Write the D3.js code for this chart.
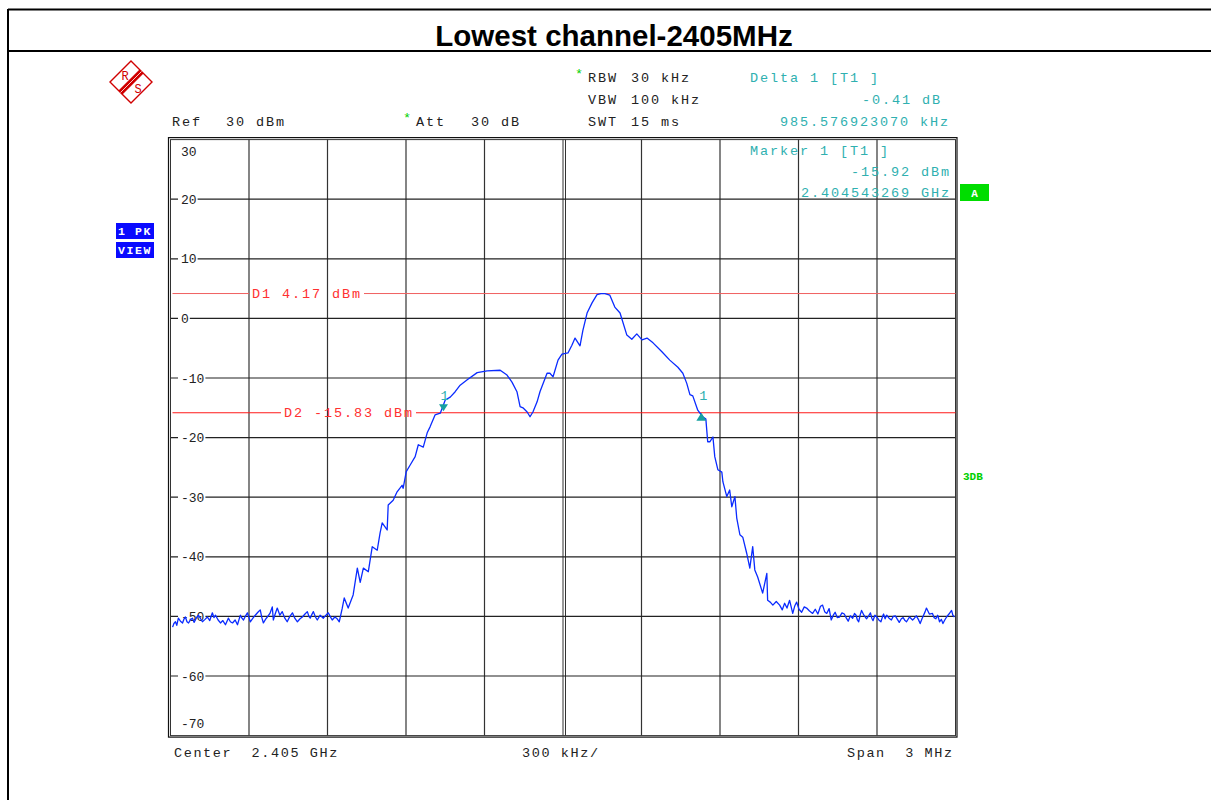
<!DOCTYPE html>
<html><head><meta charset="utf-8">
<script src="https://cdn.jsdelivr.net/npm/d3@7"></script>
<style>html,body{margin:0;padding:0;background:#fff;} svg{display:block;} text{white-space:pre;}</style>
</head><body><svg id="c" width="1211" height="800"></svg>
<script>
// ---------------- data ----------------
const chartTitle = "Lowest channel-2405MHz";
const yTickValues = [30, 20, 10, 0, -10, -20, -30, -40, -50, -60, -70];
const xGridKHz = [-1200, -900, -600, -300, 0, 300, 600, 900, 1200];
const displayLineNames = ["D1", "D2"];
const displayLineLevels = [4.17, -15.83];
const displayLineLabels = ["D1 4.17 dBm", "D2 -15.83 dBm"];
const markerKHz = [-456.7, 528.8];      // marker 1 and delta 1
const markerLevels = [-15.92, -16.33];
const headerLeft = ["Ref", "30 dBm", "Att", "30 dB"];
const headerSettings = [["RBW", "30 kHz"], ["VBW", "100 kHz"], ["SWT", "15 ms"]];
const deltaTexts = ["Delta 1 [T1 ]", "-0.41 dB", "985.576923070 kHz"];
const markerTexts = ["Marker 1 [T1 ]", "-15.92 dBm", "2.404543269 GHz"];
const footerTexts = ["Center  2.405 GHz", "300 kHz/", "Span  3 MHz"];

const traceKHz = [
 -1492,-1487,-1481,-1476,-1470,-1462,-1454,-1448,-1443,-1437,-1431,-1423,-1416,-1410,-1405,-1399,-1393,-1385,-1378,-1368,
 -1359,-1350,-1340,-1334,-1328,-1318,-1309,-1300,-1290,-1284,-1279,-1271,-1263,-1253,-1244,-1238,-1233,-1227,-1221,-1213,
 -1206,-1200,-1195,-1185,-1176,-1166,-1157,-1151,-1145,-1137,-1130,-1120,-1111,-1107,-1100,-1092,-1082,-1073,-1063,-1054,
 -1044,-1034,-1025,-1015,-1005,-996,-986,-977,-971,-966,-960,-954,-946,-939,-928,-916,-906,-897,-890,-882,-872,-863,-855,
 -844,-836,-821,-802,-786,-775,-763,
 -744,-729,-710,-699,-691,-672,-668,-649,-634,-615,
 -611,-599,-584,-565,-553,-534,-519,-508,-489,-469,
 -450,-431,-412,-393,-366,-328,-290,-240,-214,-195,
 -176,-164,-153,-137,-126,-115,-99,-88,-61,-50,
 -38,-19,-4,19,34,46,65,76,92,111,
 130,145,160,179,198,218,244,263,282,302,
 321,344,378,408,439,458,473,485,496,515,
 534,546,553,561,573,580,592,607,611,626,
 637,645,657,664,676,687,702,714,725,733,
 744,763,779,782,792,802,815,828,838,847,856,866,872,878,886,893,902,912,922,931,942,954,
 964,974,984,992,1000,1008,1017,1025,1033,1040,1048,1057,1066,1075,1083,1090,1098,1107,
 1114,1120,1125,1130,1136,1141,1150,1160,1168,1175,1180,1185,1192,1199,1207,1215,1220,1225,1231,1237,
 1246,1255,1262,1270,1278,1285,1293,1300,1307,1313,1324,1336,1343,1350,1358,1365,1372,1378,1384,1389,
 1400,1412,1418,1425,1432,1439,1446,1452,1459,1466,1475,1485,1490,1496
];
const traceDBm = [
 -51.8,-51.2,-50.9,-51.5,-50.3,-50.8,-51.1,-50.4,-50.1,-50.9,-51.1,-50.5,-50.3,-51.0,-50.6,-50.1,-49.8,-50.4,-50.9,-50.5,
 -50.1,-50.7,-49.4,-50.2,-49.8,-50.6,-51.1,-50.7,-51.4,-50.8,-50.3,-50.9,-51.1,-50.6,-51.4,-50.5,-49.8,-50.3,-50.6,-49.9,
 -49.4,-50.2,-50.9,-50.3,-49.8,-49.3,-48.9,-50.2,-51.1,-50.5,-50.1,-49.5,-48.4,-50.6,-49.6,-48.6,-49.8,-49.2,-50.3,-50.9,
 -50.0,-49.4,-50.3,-50.9,-50.4,-50.1,-49.6,-49.2,-50.0,-50.3,-49.7,-49.2,-50.1,-50.6,-49.8,-50.3,-49.8,-49.4,-50.0,-50.6,-50.1,-50.4,-50.9,
 -48.7,-46.9,-48.6,-46.4,-41.9,-44.3,-41.9,
 -42.5,-38.3,-38.9,-36.0,-34.3,-35.5,-31.3,-30.5,-29.1,-28.0,
 -28.5,-25.7,-24.6,-23.2,-21.2,-21.6,-19.2,-18.2,-16.2,-15.9,
 -13.7,-13.2,-12.3,-11.2,-10.3,-9.1,-8.8,-8.7,-9.5,-10.7,
 -12.3,-14.8,-15.0,-15.7,-16.5,-15.7,-14.0,-12.3,-9.2,-9.2,
 -9.8,-7.0,-6.0,-5.8,-4.5,-3.3,-4.6,-2.0,0.9,2.6,
 4.0,4.17,4.17,3.9,1.9,0.9,-2.8,-3.5,-2.6,-3.6,
 -3.3,-4.1,-5.6,-7.0,-8.2,-9.2,-10.9,-12.8,-13.0,-15.4,
 -16.5,-16.9,-20.7,-20.7,-19.9,-23.2,-25.4,-25.8,-27.4,-29.9,
 -28.8,-31.6,-29.9,-33.5,-36.3,-36.7,-39.4,-41.9,-38.3,-42.2,
 -43.4,-46.1,-42.8,-47.3,-47.6,-48.1,-47.5,-48.1,-48.9,-47.8,-48.6,-47.3,-48.4,-49.5,-48.2,-47.6,-48.8,-49.3,-48.4,-48.6,-49.1,-49.5,
 -48.8,-49.6,-48.3,-48.1,-49.2,-49.5,-48.7,-50.6,-49.8,-49.3,-50.2,-50.1,-49.4,-49.6,-50.3,-50.8,-49.9,-50.3,
 -49.5,-49.8,-50.6,-50.9,-49.7,-49.0,-49.8,-50.4,-49.9,-49.4,-50.3,-50.7,-49.8,-50.1,-50.6,-50.9,-50.2,-49.6,-50.4,-49.8,
 -50.3,-50.6,-50.0,-49.9,-50.5,-51.0,-50.4,-50.2,-50.7,-50.9,-50.1,-50.6,-50.3,-49.9,-50.5,-51.2,-50.4,-49.8,-49.2,-48.6,
 -49.6,-49.5,-50.2,-50.4,-49.8,-50.9,-50.5,-51.2,-50.6,-50.1,-49.6,-49.0,-49.8,-50.1
];

// ---------------- drawing ----------------
const svg = d3.select("#c");
const MONO = "'Liberation Mono', 'DejaVu Sans Mono', monospace";
const TEAL = "#2fb0b0";
const GREEN = "#00d000";

const x = d3.scaleLinear().domain([-1500, 1500]).range([170.5, 955.5]);
const y = d3.scaleLinear().domain([-70, 30]).range([735.6, 139.6]);

// page frame
svg.append("line").attr("x1", 8).attr("y1", 9.5).attr("x2", 1211).attr("y2", 9.5).attr("stroke", "#000").attr("stroke-width", 2);
svg.append("line").attr("x1", 8).attr("y1", 51).attr("x2", 1211).attr("y2", 51).attr("stroke", "#000").attr("stroke-width", 2);
svg.append("line").attr("x1", 8).attr("y1", 9).attr("x2", 8).attr("y2", 800).attr("stroke", "#000").attr("stroke-width", 2);

svg.append("text").attr("x", 614).attr("y", 45.5).attr("text-anchor", "middle")
  .attr("font-family", "'Liberation Sans', Arial, sans-serif").attr("font-weight", "bold")
  .attr("font-size", 29.5).attr("fill", "#000").text(chartTitle);

// R&S logo
const logo = svg.append("g").attr("transform", "translate(131,82)");
logo.append("polygon").attr("points", "0,-21 21,0 0,21 -21,0").attr("fill", "#fff").attr("stroke", "#d00000").attr("stroke-width", 1.4);
logo.append("polygon").attr("points", "12.5,-8.5 -8.5,12.5 -12.5,8.5 8.5,-12.5").attr("fill", "#d00000");
logo.append("line").attr("x1", 10.5).attr("y1", -10.5).attr("x2", -10.5).attr("y2", 10.5).attr("stroke", "#fff").attr("stroke-width", 0.8);
logo.append("text").attr("x", -6).attr("y", -2).attr("text-anchor", "middle").attr("font-family", MONO).attr("font-size", 12).attr("fill", "#d00000").text("R");
logo.append("text").attr("x", 7).attr("y", 11).attr("text-anchor", "middle").attr("font-family", MONO).attr("font-size", 12).attr("fill", "#d00000").text("S");

// header texts
function mono(sel, tx, ty, s, color, spacing) {
  return sel.append("text").attr("x", tx).attr("y", ty).attr("font-family", MONO)
    .attr("font-size", 13.5).attr("letter-spacing", spacing === undefined ? 1.9 : spacing)
    .attr("fill", color || "#222").text(s);
}
mono(svg, 172, 126, headerLeft[0]);
mono(svg, 226, 126, headerLeft[1]);
mono(svg, 403, 122, "*", GREEN, 0);
mono(svg, 416, 126, headerLeft[2]);
mono(svg, 471, 126, headerLeft[3]);
mono(svg, 575, 78, "*", GREEN, 0);
headerSettings.forEach((h, i) => {
  mono(svg, 588, 82 + i * 22, h[0]);
  mono(svg, 631, 82 + i * 22, h[1]);
});
mono(svg, 750, 82, deltaTexts[0], TEAL);
mono(svg, 862, 104, deltaTexts[1], TEAL);
mono(svg, 780, 126, deltaTexts[2], TEAL);

// side boxes
[["1 PK", 223], ["VIEW", 242]].forEach(b => {
  svg.append("rect").attr("x", 116).attr("y", b[1]).attr("width", 38).attr("height", 16).attr("fill", "#0a0aff");
  svg.append("text").attr("x", 118).attr("y", b[1] + 12).attr("font-family", MONO).attr("font-weight", "bold")
    .attr("font-size", 11.5).attr("letter-spacing", 1.6).attr("fill", "#fff").text(b[0]);
});
svg.append("rect").attr("x", 960).attr("y", 184).attr("width", 29).attr("height", 17).attr("fill", "#00dd00");
svg.append("text").attr("x", 974.5).attr("y", 197).attr("text-anchor", "middle").attr("font-family", MONO)
  .attr("font-weight", "bold").attr("font-size", 11).attr("fill", "#fff").text("A");
svg.append("text").attr("x", 963).attr("y", 480).attr("font-family", MONO).attr("font-weight", "bold")
  .attr("font-size", 11).attr("fill", GREEN).text("3DB");

// plot grid
const g = svg.append("g");
const [xl, xr] = x.range();
const [yb, yt] = y.range();
xGridKHz.forEach(k => {
  g.append("line").attr("x1", x(k)).attr("x2", x(k)).attr("y1", yt).attr("y2", yb)
    .attr("stroke", "#333").attr("stroke-width", k === 0 ? 1 : 1.2);
});
// center double line
g.append("line").attr("x1", x(0) + 2.5).attr("x2", x(0) + 2.5).attr("y1", yt).attr("y2", yb).attr("stroke", "#333").attr("stroke-width", 1);

yTickValues.forEach(v => {
  const yy = y(v);
  const inner = v !== 30 && v !== -70;
  if (inner) {
    g.append("line").attr("x1", xl).attr("x2", xr).attr("y1", yy).attr("y2", yy).attr("stroke", "#222").attr("stroke-width", 1.2);
  }
  const lab = String(v);
  const ly = v === 30 ? yy + 12 : (v === -70 ? yy - 12 : yy);
  g.append("rect").attr("x", 178).attr("y", ly - 7).attr("width", lab.length * 7.8 + 4).attr("height", 14).attr("fill", "#fff");
  g.append("text").attr("x", 181).attr("y", ly + 4.5).attr("font-family", MONO).attr("font-size", 13)
    .attr("fill", "#222").text(lab);
});

// frame (double)
g.append("rect").attr("x", xl - 2).attr("y", yt - 2).attr("width", xr - xl + 3.5).attr("height", yb - yt + 3.5)
  .attr("fill", "none").attr("stroke", "#111").attr("stroke-width", 1.2);
g.append("rect").attr("x", xl).attr("y", yt).attr("width", xr - xl).attr("height", yb - yt)
  .attr("fill", "none").attr("stroke", "#333").attr("stroke-width", 1);

// marker info text inside plot
mono(svg, 750, 155, markerTexts[0], TEAL);
mono(svg, 851, 176, markerTexts[1], TEAL);
mono(svg, 801, 197, markerTexts[2], TEAL);

// display lines
const dlStyle = [{c: "#f06060", w: 1, lx: 252}, {c: "#ff1a1a", w: 1.2, lx: 284}];
displayLineLevels.forEach((lv, i) => {
  const yy = y(lv);
  const st = dlStyle[i];
  const labW = displayLineLabels[i].length * 10;
  g.append("line").attr("x1", xl + 2).attr("x2", st.lx - 3).attr("y1", yy).attr("y2", yy).attr("stroke", st.c).attr("stroke-width", st.w);
  g.append("line").attr("x1", st.lx + labW + 2).attr("x2", xr).attr("y1", yy).attr("y2", yy).attr("stroke", st.c).attr("stroke-width", st.w);
  mono(g, st.lx, yy + 4.5, displayLineLabels[i], "#ff3030");
});

// trace
const tracePts = traceKHz.map((k, i) => [k, traceDBm[i]]);
g.append("path").datum(tracePts)
  .attr("d", d3.line().x(d => x(d[0])).y(d => y(d[1])))
  .attr("fill", "none").attr("stroke", "#0a2bff").attr("stroke-width", 1.3).attr("stroke-linejoin", "round");

// markers
const mx1 = x(markerKHz[0]), my1 = y(markerLevels[0]) - 2;
g.append("path").attr("d", `M${mx1 - 4.5},${my1 - 7} L${mx1 + 4.5},${my1 - 7} L${mx1},${my1} Z`).attr("fill", "#17a0a0");
mono(g, mx1 - 3, my1 - 11, "1", TEAL, 0);
const mx2 = x(markerKHz[1]), my2 = y(markerLevels[1]) - 3;
g.append("path").attr("d", `M${mx2 - 5},${my2 + 8} L${mx2 + 5},${my2 + 8} L${mx2},${my2} Z`).attr("fill", "#17a0a0");
mono(g, mx2 - 2, my2 - 13, "1", TEAL, 0);

// footer
mono(svg, 174, 757, footerTexts[0], "#222", 1.6);
mono(svg, 522, 757, footerTexts[1], "#222", 1.6);
mono(svg, 847, 757, footerTexts[2], "#222", 1.6);
</script>
</body></html>
